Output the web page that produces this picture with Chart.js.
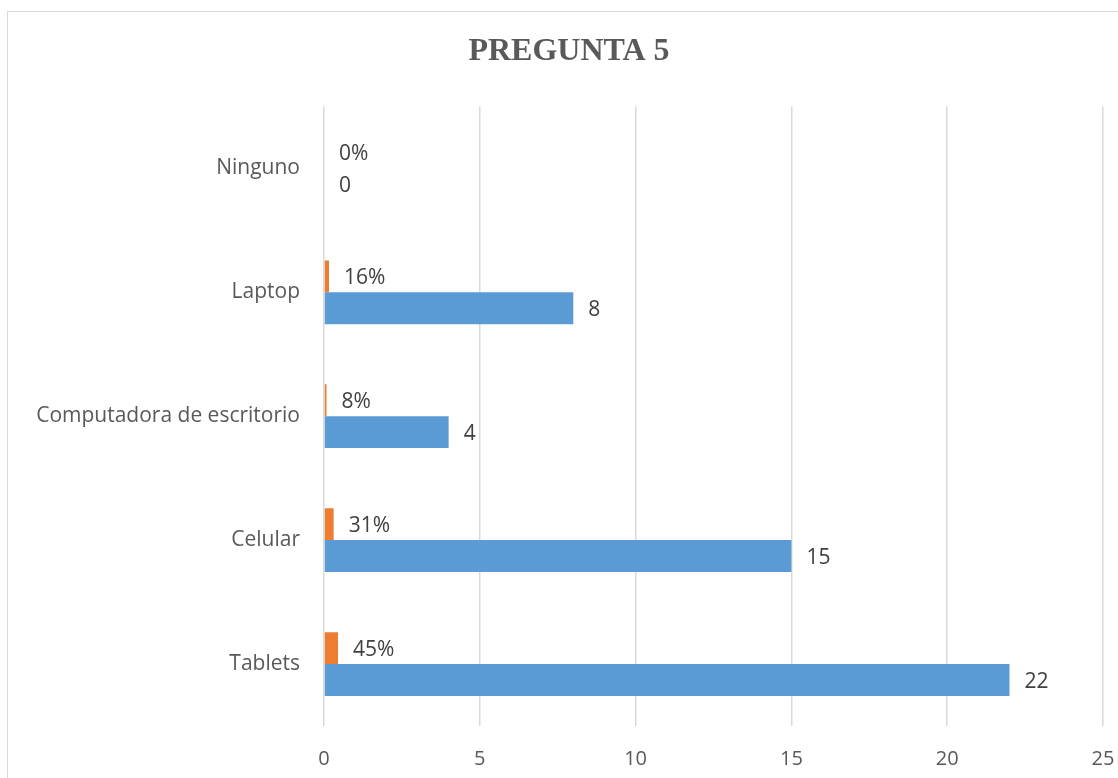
<!DOCTYPE html>
<html lang="es">
<head>
<meta charset="utf-8">
<title>Pregunta 5</title>
<script src="https://cdn.jsdelivr.net/npm/chart.js@4/dist/chart.umd.min.js"></script>
<style>
  html, body { margin: 0; padding: 0; background: #fff; overflow: hidden; }
  body { width: 1118px; height: 778px; position: relative; }
  .marco { position: absolute; left: 7px; top: 11px; width: 1140px; height: 800px;
           border: 1.5px solid #d9d9d9; box-sizing: border-box; }
  #grafico { position: absolute; left: 0; top: 0; }
</style>
</head>
<body>
<div class="marco"></div>
<canvas id="grafico" width="1138" height="778"></canvas>
<script>
/* Pregunta 5 — barras horizontales */

// ─── Datos ──────────────────────────────
const categorias = ['Ninguno', 'Laptop', 'Computadora de escritorio', 'Celular', 'Tablets'];
const cantidades = [0, 8, 4, 15, 22];
const porcentajes = [0, 0.16, 0.08, 0.31, 0.45];
const ticksX = [0, 5, 10, 15, 20, 25];

// ─── Etiquetas de datos (sin plugin externo) ─
const etiquetas = {
  id: 'etiquetas',
  afterDatasetsDraw(chart) {
    const ctx = chart.ctx;
    ctx.save();
    ctx.font = '21px "Open Sans", sans-serif';
    ctx.fillStyle = '#404040';
    ctx.textAlign = 'left';
    ctx.textBaseline = 'middle';
    chart.data.datasets.forEach((ds, i) => {
      chart.getDatasetMeta(i).data.forEach((bar, j) => {
        const v = ds.data[j];
        const txt = ds.esPct ? Math.round(v * 100) + '%' : String(v);
        ctx.fillText(txt, bar.x + 15, bar.y + 2);
      });
    });
    ctx.restore();
  }
};

// ─── Gráfico ─────────────────────────────
new Chart(document.getElementById('grafico'), {
  type: 'bar',
  data: {
    labels: categorias,
    datasets: [
      {
        label: 'Porcentaje',
        data: porcentajes,
        esPct: true,
        backgroundColor: '#ed7d31',
        barPercentage: 1,
        categoryPercentage: 0.514
      },
      {
        label: 'Cantidad',
        data: cantidades,
        backgroundColor: '#5b9bd5',
        barPercentage: 1,
        categoryPercentage: 0.514
      }
    ]
  },
  options: {
    indexAxis: 'y',
    responsive: false,
    animation: false,
    layout: { padding: 0 },
    plugins: {
      legend: { display: false },
      tooltip: { enabled: false },
      title: {
        display: true,
        text: 'PREGUNTA 5',
        color: '#595959',
        font: { family: '"Liberation Serif", serif', size: 32, weight: 'bold' },
        padding: { top: 33, bottom: 35 }
      }
    },
    scales: {
      x: {
        min: 0,
        max: 25,
        afterBuildTicks: s => { s.ticks = ticksX.map(v => ({ value: v })); },
        afterFit: s => { s.height = 52; s.paddingRight = 35; s.paddingLeft = 0; },
        grid: { color: '#d9d9d9', lineWidth: 1.5, drawTicks: false },
        border: { display: false },
        ticks: {
          color: '#595959',
          padding: 21,
          font: { family: '"Open Sans", sans-serif', size: 20 }
        }
      },
      y: {
        afterFit: s => { s.width = 324; },
        grid: { display: false, drawTicks: false },
        border: { display: false },
        ticks: {
          color: '#595959',
          padding: 24,
          font: { family: '"Open Sans", sans-serif', size: 21 }
        }
      }
    }
  },
  plugins: [etiquetas]
});
</script>
</body>
</html>
